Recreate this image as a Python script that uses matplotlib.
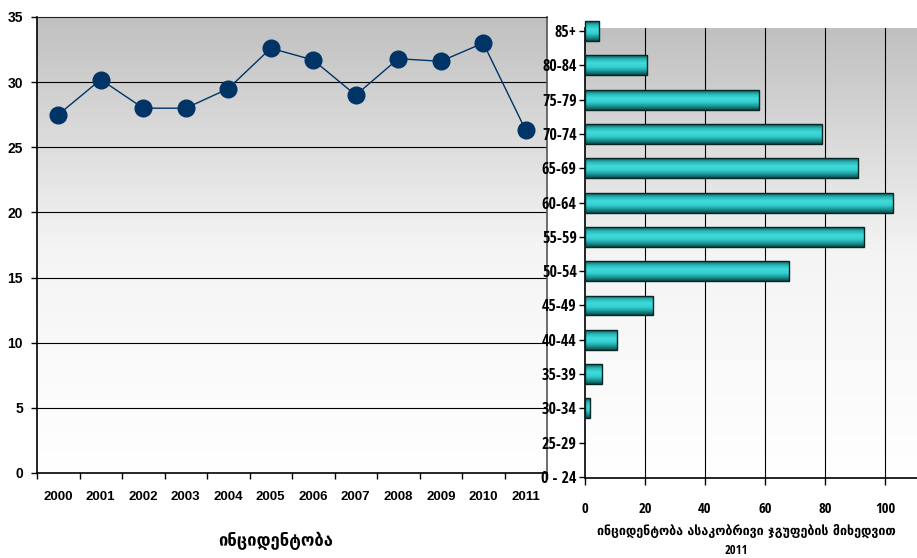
import numpy as np
import matplotlib
matplotlib.use("Agg")
import matplotlib.pyplot as plt
from matplotlib.colors import LinearSegmentedColormap
from matplotlib.patches import Rectangle

# ---- data ----
years = ["2000", "2001", "2002", "2003", "2004", "2005", "2006", "2007", "2008", "2009", "2010", "2011"]
incidence = [27.5, 30.2, 28.0, 28.0, 29.5, 32.6, 31.7, 29.0, 31.8, 31.6, 33.0, 26.3]
y_ticks_left = [0, 5, 10, 15, 20, 25, 30, 35]

age_groups = ["0 - 24", "25-29", "30-34", "35-39", "40-44", "45-49", "50-54",
              "55-59", "60-64", "65-69", "70-74", "75-79", "80-84", "85+"]
age_values = [0, 0, 1.7, 5.7, 10.7, 22.7, 68, 93, 102.7, 91, 79, 58, 20.7, 4.7]
x_ticks_right = [0, 20, 40, 60, 80, 100]

left_title = "ინციდენტობა"
right_title = "ინციდენტობა ასაკობრივი ჯგუფების მიხედვით"
right_sub = "2011"

NARROW = ["Liberation Sans Narrow", "Arial Narrow", "Open Sans Condensed", "DejaVu Sans"]
GEO = ["DejaVu Sans"]

W, H = 917, 558
fig = plt.figure(figsize=(W / 100, H / 100), dpi=100)

def box(x0, y0, x1, y1):
    return [x0 / W, 1 - y1 / H, (x1 - x0) / W, (y1 - y0) / H]

bg_cmap = LinearSegmentedColormap.from_list("bg", ["#ffffff", "#f4f4f4", "#c0c0c0"])

# ---- left chart ----
ax = fig.add_axes(box(37, 17, 547, 473))
x = np.arange(len(years))
grad = np.linspace(0, 1, 256).reshape(-1, 1)
ax.imshow(grad, aspect="auto", cmap=bg_cmap, origin="lower",
          extent=(-0.5, len(years) - 0.5, 0, 35), zorder=0)
for yv in y_ticks_left[1:-1]:
    ax.axhline(yv, color="#000000", lw=0.8, zorder=1)
ax.plot(x, incidence, color="#003366", lw=1.0, marker="o", markersize=12,
        markerfacecolor="#003366", markeredgecolor="#003366", zorder=3)
ax.set_xlim(-0.5, len(years) - 0.5)
ax.set_ylim(0, 35)
ax.set_yticks(y_ticks_left)
ax.set_yticklabels([str(v) for v in y_ticks_left], fontsize=10, fontweight="bold",
                   family="Liberation Sans")
ax.set_xticks(x)
ax.set_xticklabels(years, fontsize=9.5, fontweight="bold", family="Liberation Sans")
ax.set_xticks(np.arange(-0.5, len(years)), minor=True)
ax.tick_params(axis="x", which="major", length=0, pad=13)
ax.tick_params(axis="x", which="minor", length=4, direction="out", width=1)
ax.tick_params(axis="y", length=4, direction="out", width=1, pad=6)
for s in ["left", "bottom"]:
    ax.spines[s].set_color("#000000")
    ax.spines[s].set_linewidth(1.2)
ax.spines["top"].set_color("#222222")
ax.spines["right"].set_color("#555555")
ax.spines["right"].set_linewidth(1.2)
fig.text(276 / W, 1 - 541 / H, left_title, ha="center", va="center",
         fontsize=12, fontweight="bold", family=GEO)

# ---- right chart ----
ax2 = fig.add_axes(box(585, 28, 917, 478))
xmax = 332 / 3.0
ylo, yhi = -0.03, 13.09
ax2.imshow(grad, aspect="auto", cmap=bg_cmap, origin="lower",
           extent=(0, xmax, ylo, yhi), zorder=0)
for xv in x_ticks_right[1:]:
    ax2.axvline(xv, color="#000000", lw=0.8, zorder=1)

bar_cmap = LinearSegmentedColormap.from_list(
    "bar", ["#0a4a4a", "#1c9a9a", "#36d0d0", "#40dada", "#2ab8b8", "#0c5a5a"])
bh = 0.58
ypos = np.arange(len(age_groups))
bar_grad = np.linspace(0, 1, 64).reshape(-1, 1)
for yi, v in zip(ypos, age_values):
    if v <= 0:
        continue
    rect = Rectangle((0, yi - bh / 2), v, bh, facecolor="none",
                     edgecolor="#062626", lw=1.0, zorder=4, clip_on=False)
    ax2.add_patch(rect)
    im = ax2.imshow(bar_grad, aspect="auto", cmap=bar_cmap, origin="lower",
                    extent=(0, v, yi - bh / 2, yi + bh / 2), zorder=3)
    im.set_clip_path(rect)
ax2.set_xlim(0, xmax)
ax2.set_ylim(ylo, yhi)
ax2.set_xticks(x_ticks_right)
ax2.set_xticklabels([str(v) for v in x_ticks_right], fontsize=10.5, fontweight="bold",
                    family=NARROW)
ax2.set_yticks(ypos)
ax2.set_yticklabels(age_groups, fontsize=11.5, fontweight="bold", family=NARROW)
ax2.tick_params(axis="x", length=5, direction="out", width=1, pad=12)
ax2.tick_params(axis="y", length=4, direction="out", width=1, pad=2)
for s in ["left", "bottom"]:
    ax2.spines[s].set_color("#000000")
    ax2.spines[s].set_linewidth(1.2)
ax2.spines["top"].set_visible(False)
ax2.spines["right"].set_visible(False)

fig.text(746 / W, 1 - 531 / H, right_title, ha="center", va="center",
         fontsize=9, fontweight="bold", family=GEO)
fig.text(736 / W, 1 - 550 / H, right_sub, ha="center", va="center",
         fontsize=9, family=NARROW)

fig.savefig("out.png", dpi=100)
